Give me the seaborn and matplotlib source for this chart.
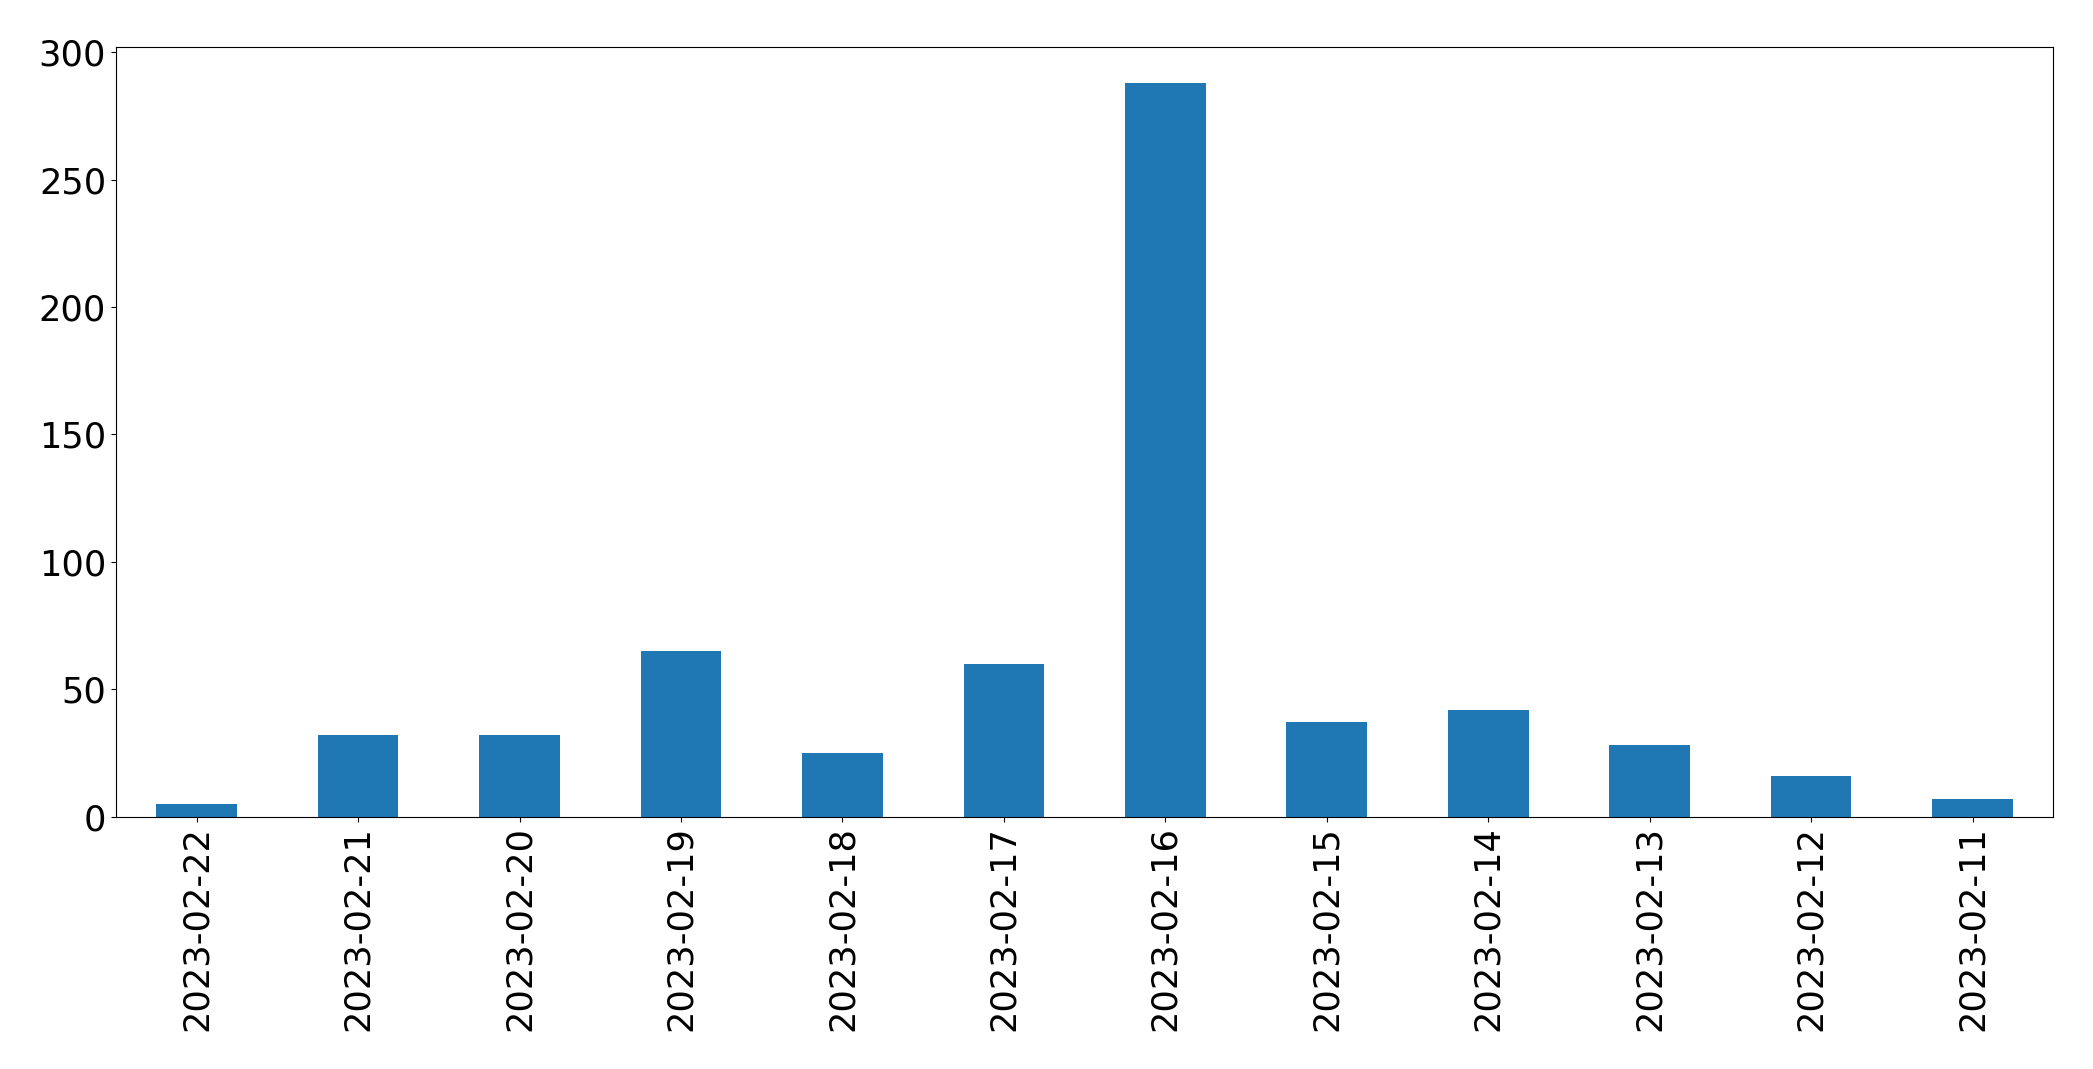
import pandas as pd
import numpy as np
import matplotlib
matplotlib.use("Agg")
import matplotlib.pyplot as plt
import seaborn as sns

dates = ["2023-02-22", "2023-02-21", "2023-02-20", "2023-02-19", "2023-02-18", "2023-02-17",
         "2023-02-16", "2023-02-15", "2023-02-14", "2023-02-13", "2023-02-12", "2023-02-11"]
counts = [5, 32, 32, 65, 25, 60, 288, 37, 42, 28, 16, 7]

df = pd.DataFrame({"date": dates, "count": counts})

fig = plt.figure(figsize=(20.93, 10.69), dpi=100)
ax = fig.add_axes([0.0554, 0.236, 0.9256, 0.72])
sns.barplot(x="date", y="count", data=df, color="#1f77b4", saturation=1, width=0.5, ax=ax)
ax.set_xlim(-0.5, len(dates) - 0.5)
ax.set_ylim(0, 302)
ax.set_xlabel("")
ax.set_ylabel("")
ax.tick_params(axis="both", labelsize=25.3)
plt.setp(ax.get_xticklabels(), rotation=90)
fig.savefig("out.png", dpi=100)
